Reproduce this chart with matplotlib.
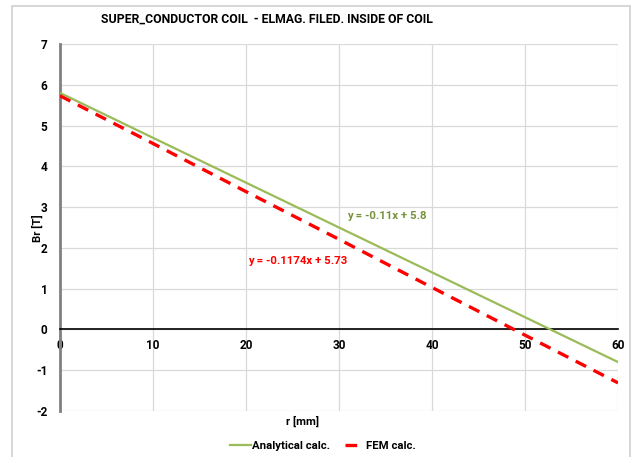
import matplotlib
matplotlib.use("Agg")
import matplotlib.pyplot as plt
from matplotlib.patches import Rectangle
from matplotlib.lines import Line2D

r_mm = [0, 10, 20, 30, 40, 50, 60]
analytical = [5.8, 4.7, 3.6, 2.5, 1.4, 0.3, -0.8]
fem = [5.73, 4.56, 3.38, 2.21, 1.03, -0.14, -1.31]
x_ticks = [0, 10, 20, 30, 40, 50, 60]
y_ticks = [-2, -1, 0, 1, 2, 3, 4, 5, 6, 7]

title = "SUPER_CONDUCTOR COIL  - ELMAG. FILED. INSIDE OF COIL"
eq_analytical = "y = -0.11x + 5.8"
eq_fem = "y = -0.1174x + 5.73"

plt.rcParams['font.family'] = ['Roboto', 'DejaVu Sans']
plt.rcParams['axes.unicode_minus'] = False
W, H = 632, 457
fig = plt.figure(figsize=(W / 100, H / 100), dpi=100)
fig.patches.append(Rectangle((12 / W, -0.1), (630 - 12) / W, 1.1 - 6 / H, transform=fig.transFigure,
                             fill=False, edgecolor='#d0d0d0', linewidth=1.2))

ax = fig.add_axes([60 / W, 1 - 411 / H, (618 - 60) / W, (411 - 44) / H])
green = '#9bbb59'
red = '#ff0000'
ax.plot(r_mm, analytical, color=green, linewidth=1.6, label='Analytical calc.', zorder=3)
ax.plot(r_mm, fem, color=red, linewidth=2.4, linestyle=(0, (3.5, 2.5)), label='FEM calc.', zorder=3)

ax.set_xlim(0, 60)
ax.set_ylim(-2, 7)
ax.set_xticks(x_ticks)
ax.set_yticks(y_ticks)
ax.grid(True, color='#d9d9d9', linewidth=0.9)
ax.set_axisbelow(True)
for s in ['top', 'right']:
    ax.spines[s].set_visible(False)
ax.spines['left'].set_color('#808080')
ax.spines['left'].set_linewidth(2)
ax.spines['bottom'].set_position(('data', 0))
ax.spines['bottom'].set_color('#000000')
ax.spines['bottom'].set_linewidth(1.2)
ax.tick_params(length=0, labelsize=8.5)
ax.tick_params(axis='x', pad=7)
ax.tick_params(axis='y', pad=9)
for lab in ax.get_xticklabels() + ax.get_yticklabels():
    lab.set_fontweight('bold')

fig.text(267 / W, 1 - 19 / H, title, ha='center', va='center', fontsize=8.8, fontweight='bold')
fig.text(37 / W, 1 - 228 / H, 'Br [T]', ha='center', va='center', rotation=90, fontsize=8.2, fontweight='bold')
fig.text(303 / W, 1 - 421 / H, 'r [mm]', ha='center', va='center', fontsize=8.2, fontweight='bold')

fig.text(347 / W, 1 - 216 / H, eq_analytical, color='#76923c', fontsize=8.2, fontweight='bold', va='center')
fig.text(248 / W, 1 - 261 / H, eq_fem, color=red, fontsize=8.2, fontweight='bold', va='center')

handles = [Line2D([], [], color=green, linewidth=1.6),
           Line2D([], [], color=red, linewidth=2.4, linestyle=(0, (3.5, 2.5)))]
leg = fig.legend(handles, ['Analytical calc.', 'FEM calc.'], loc='center', bbox_to_anchor=(323 / W, 1 - 446 / H),
                 ncol=2, frameon=False, fontsize=8.2, handlelength=1.8, handletextpad=0.1, columnspacing=1.3)
for t in leg.get_texts():
    t.set_fontweight('bold')

fig.savefig('out.png', dpi=100)
